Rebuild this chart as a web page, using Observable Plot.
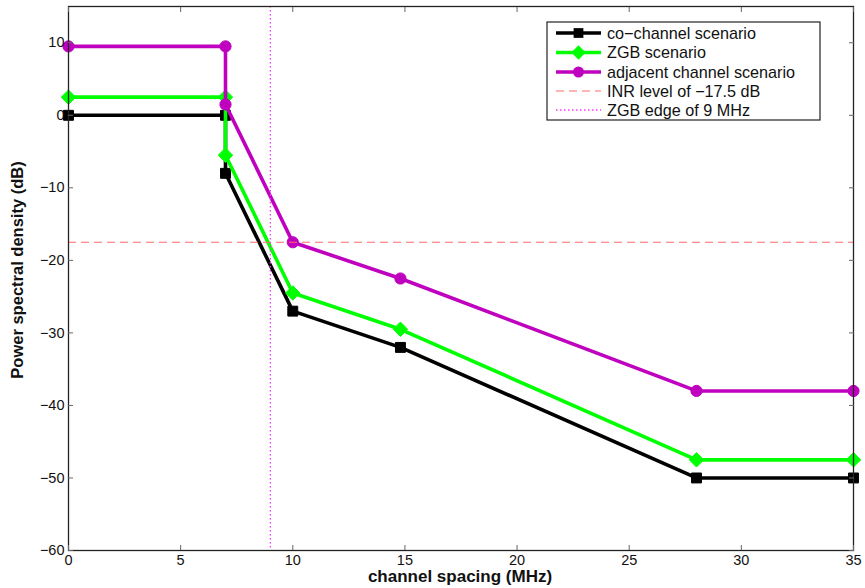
<!DOCTYPE html>
<html>
<head>
<meta charset="utf-8">
<script src="https://cdn.jsdelivr.net/npm/d3@7"></script>
<script src="https://cdn.jsdelivr.net/npm/@observablehq/plot@0.6"></script>
<style>
  html, body { margin: 0; padding: 0; background: #fff; }
  #chart { position: relative; width: 865px; height: 588px; }
  svg { font-family: "Liberation Sans", Arial, sans-serif; }
</style>
</head>
<body>
<div id="chart"></div>
<script>
// Data
const spacing = [0, 7, 7, 10, 14.8, 28, 35];           // channel spacing (MHz)
const coChannel = [0, 0, -8, -27, -32, -50, -50];       // co-channel scenario (dB)
const zgb = [2.5, 2.5, -5.5, -24.5, -29.5, -47.5, -47.5]; // ZGB scenario (dB)
const adjacent = [9.5, 9.5, 1.5, -17.5, -22.5, -38, -38]; // adjacent channel scenario (dB)
const inrLevel = [-17.5];
const zgbEdge = [9];
const xTicks = [0, 5, 10, 15, 20, 25, 30, 35];
const yTicks = [-60, -50, -40, -30, -20, -10, 0, 10];
const seriesNames = ["co\u2212channel scenario", "ZGB scenario", "adjacent channel scenario"];
const refNames = ["INR level of \u221217.5 dB", "ZGB edge of 9 MHz"];

const colors = ["#000000", "#00ff00", "#bf00bf"];
const symbols = ["square", "diamond2", "circle"];

const series = [coChannel, zgb, adjacent].map((vals, i) =>
  spacing.map((x, j) => ({x, y: vals[j], s: seriesNames[i]}))
);

const fmt = d3.format("d");
const blank = () => "";

const marks = [];
series.forEach((data, i) => {
  marks.push(Plot.line(data, {x: "x", y: "y", stroke: colors[i], strokeWidth: 3.6}));
  marks.push(Plot.dot(data, {x: "x", y: "y", symbol: () => symbols[i], fill: colors[i], stroke: colors[i],
    strokeWidth: 1, r: i === 1 ? 6.5 : 5.6}));
});
marks.push(Plot.ruleY(inrLevel, {stroke: "#ff6a6a", strokeWidth: 1.2, strokeDasharray: "8,5"}));
marks.push(Plot.ruleX(zgbEdge, {stroke: "#ff33ff", strokeWidth: 1.3, strokeDasharray: "1.5,2.5"}));
marks.push(Plot.frame({stroke: "#222", strokeWidth: 1.3}));
// tick labels
marks.push(Plot.axisX(xTicks, {anchor: "bottom", tickSize: 0, tickPadding: 4, tickFormat: fmt, fontSize: 14.5, label: null}));
marks.push(Plot.axisY(yTicks, {anchor: "left", tickSize: 0, tickPadding: 4, tickFormat: fmt, fontSize: 14.5, label: null}));
// inward tick marks on all four sides
marks.push(Plot.axisX(xTicks, {anchor: "bottom", tickSize: 5, dy: -5, tickFormat: blank, label: null, stroke: "#666"}));
marks.push(Plot.axisX(xTicks, {anchor: "top", tickSize: 5, dy: 5, tickFormat: blank, label: null, stroke: "#666"}));
marks.push(Plot.axisY(yTicks, {anchor: "left", tickSize: 5, dx: 5, tickFormat: blank, label: null, stroke: "#666"}));
marks.push(Plot.axisY(yTicks, {anchor: "right", tickSize: 5, dx: -5, tickFormat: blank, label: null, stroke: "#666"}));

const chart = Plot.plot({
  width: 865,
  height: 588,
  marginLeft: 68,
  marginRight: 12,
  marginTop: 6,
  marginBottom: 38,
  style: {fontFamily: "Liberation Sans, Arial, sans-serif", fontSize: "14px", color: "#111", background: "#fff"},
  x: {domain: [0, 35]},
  y: {domain: [-60, 15]},
  marks
});

document.getElementById("chart").appendChild(chart);

// Axis titles and legend
const svg = d3.select(chart);
svg.append("text")
  .attr("x", 460).attr("y", 582)
  .attr("text-anchor", "middle")
  .attr("font-weight", "bold").attr("font-size", 17)
  .attr("fill", "#111")
  .text("channel spacing (MHz)");
svg.append("text")
  .attr("transform", "translate(23,270) rotate(-90)")
  .attr("text-anchor", "middle")
  .attr("font-weight", "bold").attr("font-size", 16.5)
  .attr("fill", "#111")
  .text("Power spectral density (dB)");

const lg = svg.append("g").attr("text-anchor", "start");
lg.append("rect").attr("x", 547).attr("y", 22).attr("width", 273).attr("height", 98)
  .attr("fill", "#fff").attr("stroke", "#222").attr("stroke-width", 1.2);
const rows = [33, 52.5, 72, 91, 110];
const allNames = seriesNames.concat(refNames);
const legendSym = [d3.symbolSquare, d3.symbolDiamond2, d3.symbolCircle];
allNames.forEach((name, i) => {
  const y = rows[i];
  const line = lg.append("line").attr("x1", 556).attr("x2", 601).attr("y1", y).attr("y2", y);
  if (i < 3) {
    line.attr("stroke", colors[i]).attr("stroke-width", 3.6);
    lg.append("path").attr("d", d3.symbol(legendSym[i], i === 1 ? 130 : 95)())
      .attr("transform", `translate(578.5,${y})`).attr("fill", colors[i]);
  } else if (i === 3) {
    line.attr("stroke", "#ff6a6a").attr("stroke-width", 1.2).attr("stroke-dasharray", "8,5");
  } else {
    line.attr("stroke", "#ff33ff").attr("stroke-width", 1.3).attr("stroke-dasharray", "1.5,2.5");
  }
  lg.append("text").attr("x", 607).attr("y", y).attr("dy", "0.35em")
    .attr("text-anchor", "start")
    .attr("font-size", 16.2).attr("fill", "#111").text(name);
});
</script>
</body>
</html>
